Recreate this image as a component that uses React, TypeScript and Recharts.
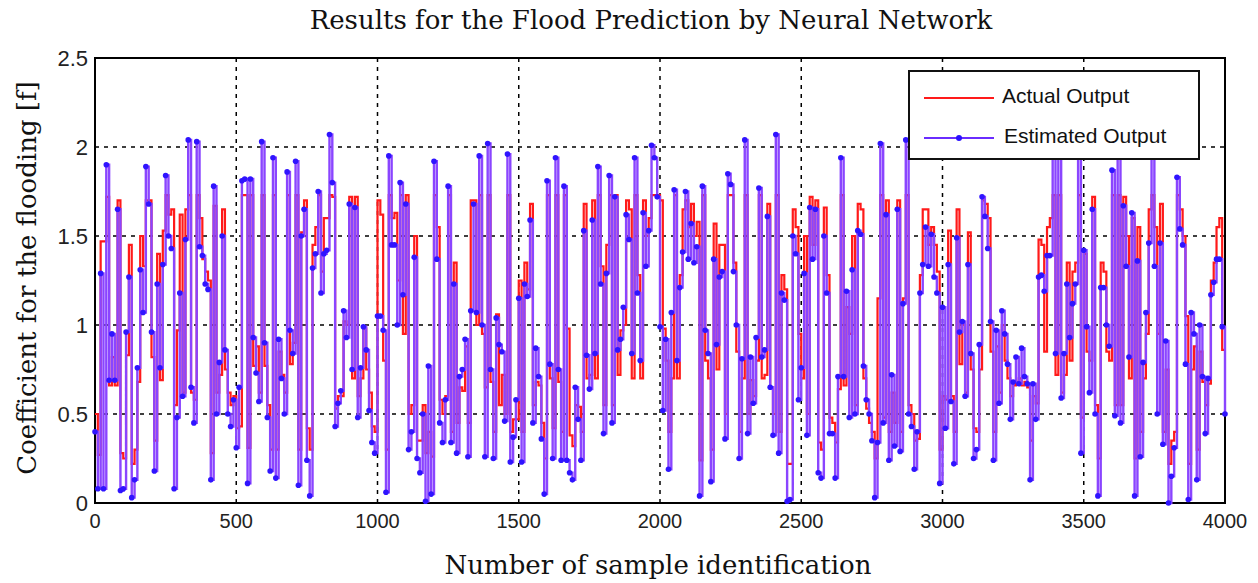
import { LineChart, Line, XAxis, YAxis, CartesianGrid, ReferenceArea } from "recharts";

// sample spacing between plotted points
const STEP = 10;

const xTicks = [0, 500, 1000, 1500, 2000, 2500, 3000, 3500, 4000];
const yTicks = [0, 0.5, 1, 1.5, 2, 2.5];

// Actual Output (red)
const actualOutput = [
  0.50, 0.27, 1.47, 1.47, 1.72, 0.66, 0.82, 0.66, 1.70, 0.28,
  0.25, 0.83, 1.45, 0.22, 0.30, 0.68, 1.50, 1.33, 1.70, 1.70,
  0.82, 0.35, 1.40, 0.69, 1.53, 1.73, 1.62, 1.65, 0.55, 0.97,
  1.62, 0.62, 1.65, 1.73, 0.62, 0.58, 1.73, 1.60, 1.37, 1.30,
  1.25, 0.28, 1.67, 0.62, 0.72, 1.65, 0.75, 0.62, 0.55, 0.60,
  0.42,
  0.43, 1.73, 1.73, 0.31, 1.73, 0.77, 0.88, 0.62, 1.73, 0.77,
  0.55, 0.30, 1.73, 0.30, 0.85, 0.72, 0.62, 1.73, 0.78, 0.90,
  1.73, 0.30, 1.52, 1.70, 0.42, 0.30, 1.45, 1.55, 1.73, 1.30,
  1.60, 1.60, 1.73, 1.72, 0.53, 0.60, 0.60, 1.02, 1.00, 1.72,
  0.70, 1.72, 0.60, 0.70, 0.98, 0.75, 0.62, 0.43, 0.40, 1.70,
  1.62, 0.80, 0.30, 1.73, 1.60, 1.63, 1.25, 1.73, 0.95, 1.73,
  0.50, 0.55, 1.50, 0.35, 0.35, 0.55, 0.28, 0.40, 0.26, 1.73,
  1.55, 0.58, 0.50, 0.60, 1.73, 0.40, 1.35, 0.45, 0.65, 0.63,
  0.88, 0.45, 1.70, 1.70, 1.00, 1.73, 0.95, 0.65, 1.73, 0.68,
  0.40, 1.06, 0.55, 0.72, 0.50, 1.73, 0.40, 0.47, 0.47, 1.25,
  0.40, 1.35, 1.20, 1.68, 0.55, 0.68, 0.66, 0.45, 0.25, 1.73,
  0.70, 0.42, 1.73, 0.68, 0.40, 1.73, 0.98, 0.38, 0.32, 0.55,
  0.54, 0.40, 1.68, 0.70, 0.72, 1.70, 0.70, 1.73, 1.33, 0.55,
  1.45, 1.73, 0.55, 1.73, 0.72, 0.97, 1.00, 1.70, 1.65, 0.70,
  1.73, 1.28, 0.70, 1.70, 1.50, 1.60, 1.73, 1.73, 1.73, 1.70,
  0.98, 0.80, 0.40, 0.70, 1.73, 0.70, 1.28, 1.65, 1.70, 1.55,
  1.68, 1.50, 1.58, 0.24, 1.73, 0.80, 0.70, 0.30, 1.57, 0.75,
  1.45, 1.45, 0.50, 1.73, 1.73, 1.35, 0.85, 0.40, 0.70, 1.73,
  0.50, 0.69, 0.60, 0.80, 1.73, 0.70, 0.72, 1.68, 0.65, 0.50,
  1.73, 0.40, 1.28, 1.20, 0.22, 0.22, 1.65, 1.55, 0.95, 0.70,
  1.50, 0.50, 1.72, 1.45, 1.70, 0.34, 0.30, 1.66, 1.28, 0.48,
  0.45, 0.34, 0.64, 1.73, 0.66, 1.10, 0.95, 1.50, 0.55, 1.68,
  1.65, 0.70, 0.53, 0.45, 0.40, 0.25, 1.15, 1.73, 0.48, 1.70,
  0.40, 0.62, 0.45, 1.70, 0.40, 1.15, 1.73, 0.55, 0.50, 0.35,
  0.36, 1.28, 1.65, 1.65, 1.45, 1.55, 1.45, 1.30, 0.30, 0.60,
  0.58, 1.53, 0.60, 0.40, 1.65, 0.78, 1.00, 0.62, 1.52, 0.75,
  0.42, 0.40, 0.75, 1.70, 1.68, 1.60, 0.85, 0.40, 0.88, 0.62,
  1.00, 0.80, 0.70, 0.60, 0.66, 0.68, 0.70, 0.66, 0.68, 0.65,
  0.35, 0.60, 0.56, 1.48, 1.45, 0.85, 1.55, 1.60, 1.73, 0.72,
  1.73, 0.62, 0.72, 1.35, 0.80, 1.30, 1.35, 1.73, 0.48, 1.40,
  0.85, 0.80, 1.72, 0.55, 0.25, 1.35, 1.30, 0.85, 0.80, 1.73,
  0.55, 1.73, 0.55, 1.72, 1.50, 0.70, 1.60, 0.25, 1.55, 0.40,
  0.70, 0.95, 1.65, 1.73, 1.55, 0.95, 1.68, 0.40, 0.75, 0.22,
  0.35, 0.40, 1.73, 1.65, 1.50, 1.05, 0.22, 0.75, 0.88, 0.30,
  0.85, 0.68, 0.55, 0.67, 1.25, 1.35, 1.55, 1.60, 0.86, 0.86,
];

// Estimated Output (neural network, purple/blue)
const estimatedOutput = [
  0.40, 0.08, 1.29, 0.08, 1.90, 0.69, 0.95, 0.69, 1.65, 0.07,
  0.08, 0.96, 1.27, 0.03, 0.13, 0.76, 1.31, 1.07, 1.89, 1.68,
  0.96, 0.18, 1.23, 0.76, 1.34, 1.84, 1.50, 1.43, 0.08, 0.48,
  1.18, 0.60, 1.48, 2.04, 0.65, 0.45, 2.03, 1.44, 1.39, 1.23,
  1.20, 0.13, 1.78, 0.50, 0.79, 1.50, 0.86, 0.50, 0.43, 0.58,
  0.31,
  0.65, 1.81, 1.82, 0.11, 1.82, 0.93, 0.73, 0.57, 2.03, 0.90,
  0.48, 0.18, 1.94, 0.14, 0.92, 0.70, 0.50, 1.86, 0.97, 0.84,
  1.92, 0.10, 1.50, 1.65, 0.24, 0.04, 1.32, 1.40, 1.75, 1.18,
  1.40, 1.42, 2.07, 1.80, 0.43, 0.56, 0.63, 1.08, 0.93, 1.68,
  0.75, 1.66, 0.48, 0.76, 0.99, 0.86, 0.52, 0.34, 0.28, 1.05,
  1.05, 0.97, 0.06, 1.95, 1.45, 1.45, 1.00, 1.80, 1.17, 1.68,
  0.30, 0.40, 1.38, 0.25, 0.17, 0.50, 0.01, 0.77, 0.05, 1.92,
  1.37, 0.45, 0.34, 0.58, 1.78, 0.34, 1.23, 0.28, 0.71, 0.75,
  0.92, 0.26, 1.08, 1.68, 1.07, 1.95, 1.00, 0.26, 2.02, 0.75,
  0.25, 1.04, 0.89, 0.85, 0.46, 1.96, 0.23, 0.37, 0.58, 1.15,
  0.23, 1.23, 1.16, 1.59, 0.45, 0.87, 0.71, 0.36, 0.05, 1.81,
  0.78, 0.25, 1.94, 0.75, 0.24, 1.78, 0.24, 0.17, 0.13, 0.65,
  0.47, 0.24, 1.53, 0.83, 0.64, 1.59, 0.84, 1.89, 1.23, 0.39,
  1.29, 1.84, 0.45, 1.72, 0.86, 0.92, 1.10, 1.62, 1.48, 0.84,
  1.94, 1.18, 0.80, 1.63, 1.33, 1.53, 2.01, 1.94, 1.72, 0.99,
  0.52, 0.92, 0.19, 1.07, 1.76, 0.80, 1.21, 1.41, 1.75, 1.37,
  1.57, 1.35, 1.44, 0.04, 1.78, 0.97, 0.84, 0.12, 1.37, 0.89,
  1.27, 1.30, 0.36, 1.85, 1.79, 1.30, 1.00, 0.25, 0.81, 2.04,
  0.39, 0.82, 0.56, 0.93, 1.77, 0.82, 0.86, 1.61, 0.65, 0.38,
  2.07, 0.28, 1.18, 1.14, 0.01, 0.02, 1.50, 1.40, 0.58, 0.76,
  1.29, 0.38, 1.66, 1.37, 1.65, 0.17, 0.14, 1.50, 1.18, 0.39,
  0.39, 0.14, 0.71, 1.94, 0.71, 1.19, 0.48, 1.31, 0.50, 1.53,
  1.51, 0.77, 0.58, 0.50, 0.35, 0.03, 0.34, 2.02, 0.45, 1.62,
  0.24, 0.72, 0.32, 1.65, 0.29, 1.12, 2.04, 0.50, 0.43, 0.19,
  0.40, 1.18, 1.34, 1.55, 1.33, 1.51, 1.27, 1.18, 0.11, 1.10,
  0.42, 1.34, 0.57, 0.22, 1.49, 0.96, 1.02, 0.60, 1.34, 0.84,
  0.25, 0.30, 0.89, 1.72, 1.61, 1.43, 1.02, 0.24, 0.97, 0.56,
  1.08, 0.95, 0.78, 0.47, 0.68, 0.82, 0.67, 0.87, 0.71, 0.67,
  0.13, 0.67, 0.47, 1.27, 1.28, 1.19, 1.39, 1.39, 2.05, 0.84,
  2.05, 0.59, 0.84, 1.23, 0.93, 1.12, 1.23, 2.00, 0.28, 1.42,
  0.99, 0.62, 1.65, 0.50, 0.04, 1.21, 1.21, 1.00, 0.88, 1.87,
  0.49, 1.95, 0.45, 1.67, 1.33, 0.82, 1.63, 0.04, 1.36, 0.26,
  0.79, 1.07, 1.46, 2.00, 1.33, 0.50, 1.46, 0.33, 0.91, 0.00,
  0.15, 0.31, 1.83, 1.54, 1.45, 0.78, 0.02, 1.07, 0.95, 0.13,
  1.00, 0.71, 0.39, 0.70, 1.17, 1.24, 1.37, 1.37, 0.99, 0.50,
];

const data = estimatedOutput.map((est, i) => ({
  sample: i * STEP,
  actual: actualOutput[i],
  estimated: est,
}));

const serif = "'DejaVu Serif', 'Liberation Serif', serif";
const sans = "'Liberation Sans', Arial, sans-serif";

const Legend = () => (
  <div
    style={{
      position: "absolute",
      left: 900,
      top: 62,
      width: 288,
      height: 86,
      background: "#fff",
      border: "2px solid #111",
      fontFamily: sans,
      fontSize: 21,
      color: "#111",
    }}
  >
    <div style={{ position: "absolute", left: 14, top: 25, width: 70, height: 2, background: "#ff1a1a" }} />
    <div style={{ position: "absolute", left: 92, top: 12 }}>Actual Output</div>
    <div style={{ position: "absolute", left: 14, top: 65, width: 70, height: 2, background: "#6a2cff" }} />
    <div style={{ position: "absolute", left: 46, top: 63, width: 6, height: 6, borderRadius: 3, background: "#2a10ff" }} />
    <div style={{ position: "absolute", left: 94, top: 52 }}>Estimated Output</div>
  </div>
);

export default function App() {
  return (
    <div style={{ position: "relative", width: 1250, height: 575 }}>
      <div
        style={{
          position: "absolute",
          left: 643,
          top: 12,
          transform: "translate(-50%, -50%)",
          fontFamily: serif,
          fontSize: 26,
          whiteSpace: "nowrap",
          color: "#111",
        }}
      >
        Results for the Flood Prediction by Neural Network
      </div>
      <LineChart
        width={1250}
        height={575}
        data={data}
        margin={{ top: 50, right: 33, left: 0, bottom: 0 }}
      >
        <CartesianGrid stroke="#000" strokeDasharray="4 5" strokeWidth={1.5} />
        <XAxis
          dataKey="sample"
          type="number"
          domain={[0, 4000]}
          ticks={xTicks}
          height={80}
          tickLine={false}
          axisLine={false}
          tickMargin={5}
          tick={{ fill: "#222", fontSize: 20, fontFamily: sans }}
        />
        <YAxis
          type="number"
          domain={[0, 2.5]}
          ticks={yTicks}
          width={87}
          tickLine={false}
          axisLine={false}
          tickMargin={1}
          tick={{ fill: "#222", fontSize: 22, fontFamily: sans }}
        />
        <Line
          type="stepAfter"
          dataKey="actual"
          stroke="#ff1a1a"
          strokeWidth={2.2}
          dot={false}
          isAnimationActive={false}
        />
        <Line
          type="stepAfter"
          dataKey="estimated"
          stroke="#8a45ff"
          strokeWidth={2.4}
          dot={{ r: 2.8, fill: "#2f14ff", stroke: "none" }}
          isAnimationActive={false}
        />
        <ReferenceArea
          x1={0}
          x2={4000}
          y1={0}
          y2={2.5}
          fill="none"
          stroke="#000"
          strokeWidth={2}
          ifOverflow="visible"
        />
      </LineChart>
      <div
        style={{
          position: "absolute",
          left: 650,
          top: 557,
          transform: "translate(-50%, -50%)",
          fontFamily: serif,
          fontSize: 26,
          whiteSpace: "nowrap",
          color: "#111",
        }}
      >
        Number of sample identification
      </div>
      <div
        style={{
          position: "absolute",
          left: 19,
          top: 270,
          transform: "translate(-50%, -50%) rotate(-90deg)",
          fontFamily: serif,
          fontSize: 26,
          whiteSpace: "nowrap",
          color: "#111",
        }}
      >
        Coefficient for the flooding [f]
      </div>
      <Legend />
    </div>
  );
}
